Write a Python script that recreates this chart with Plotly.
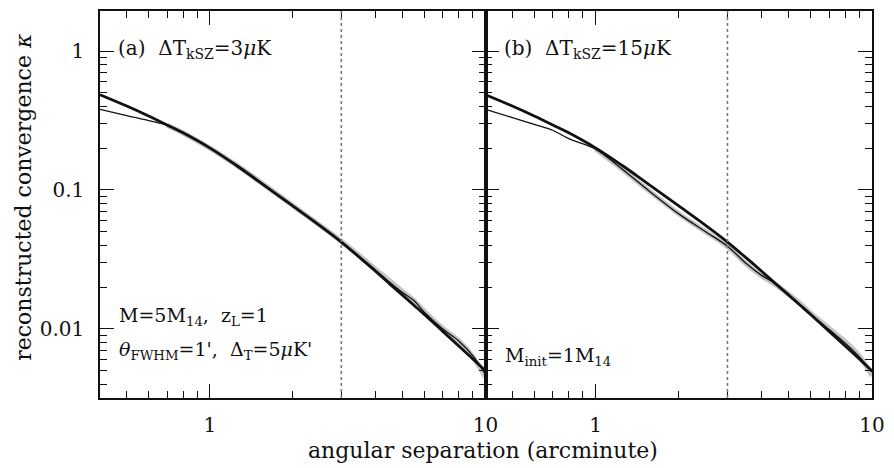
import plotly.graph_objects as go

# angular separation (arcminute)
sep = [0.4, 0.5, 0.6, 0.7, 0.8, 1.0, 1.25, 1.5, 2.0, 2.5, 3.0, 3.5, 4.0, 4.5, 5.0, 5.5, 6.0, 7.0, 8.0, 9.0, 10.0]

# input (true) convergence profile, same in both panels
kappa_true = [0.485, 0.402, 0.341, 0.294, 0.258, 0.201, 0.150, 0.116, 0.0767, 0.0556, 0.0422,
              0.0326, 0.0259, 0.0210, 0.0175, 0.0148, 0.0127, 0.0096, 0.00754, 0.00607, 0.00498]

# panel (a): dT_kSZ = 3 muK
kappa_rec_a = [0.380, 0.343, 0.316, 0.293, 0.258, 0.201, 0.151, 0.117, 0.0770, 0.0556, 0.0425,
               0.0330, 0.0265, 0.0216, 0.0183, 0.0160, 0.0132, 0.0100, 0.0082, 0.0064, 0.0047]
kappa_band_a = [None, None, None, 0.292, 0.257, 0.200, 0.151, 0.117, 0.0772, 0.0560, 0.0428,
                0.0335, 0.0268, 0.0222, 0.0186, 0.0160, 0.0134, 0.0101, 0.0082, 0.0063, 0.0045]

# panel (b): dT_kSZ = 15 muK
kappa_rec_b = [0.380, 0.332, 0.297, 0.269, 0.234, 0.197, 0.141, 0.105, 0.0673, 0.0501, 0.0394,
               0.0297, 0.0242, 0.0210, 0.0176, 0.0149, 0.0128, 0.0099, 0.0079, 0.0063, 0.0049]
kappa_band_b = [None, None, None, None, None, 0.197, 0.141, 0.105, 0.0675, 0.0502, 0.0392,
                0.0295, 0.0240, 0.0207, 0.0177, 0.0152, 0.0130, 0.0101, 0.0081, 0.0064, 0.0046]

x_major = [1, 10]
x_major_text = ["1", "10"]
x_minor = [0.5, 0.6, 0.7, 0.8, 0.9, 2, 3, 4, 5, 6, 7, 8, 9]
y_major = [0.01, 0.1, 1]
y_major_text = ["0.01", "0.1", "1"]
y_minor = [0.004, 0.005, 0.006, 0.007, 0.008, 0.009,
           0.02, 0.03, 0.04, 0.05, 0.06, 0.07, 0.08, 0.09,
           0.2, 0.3, 0.4, 0.5, 0.6, 0.7, 0.8, 0.9]
theta_beam = 3.0

FONT = "DejaVu Serif"
BLACK = "#111111"
GRAY = "#c4c4c4"

W, H = 894, 468
PL, PR, PT, PB = 100, 879, 9, 398   # plot area in window pixels

fig = go.Figure()
panels = [("x", "y", kappa_rec_a, kappa_band_a), ("x2", "y2", kappa_rec_b, kappa_band_b)]
for xa, ya, rec, band in panels:
    fig.add_trace(go.Scatter(x=sep, y=band, mode="lines", xaxis=xa, yaxis=ya,
                             line=dict(color=GRAY, width=5, shape="spline"),
                             connectgaps=False, showlegend=False, hoverinfo="skip"))
    fig.add_trace(go.Scatter(x=sep, y=rec, mode="lines", xaxis=xa, yaxis=ya,
                             line=dict(color=BLACK, width=1.3, shape="spline"), showlegend=False))
    fig.add_trace(go.Scatter(x=sep, y=kappa_true, mode="lines", xaxis=xa, yaxis=ya,
                             line=dict(color=BLACK, width=2.8, shape="spline"), showlegend=False))
    fig.add_shape(type="line", xref=xa, yref=ya + " domain", x0=theta_beam, x1=theta_beam,
                  y0=0, y1=1, line=dict(color="#777777", width=1.6, dash="dot"))

split = (489 - PL) / (PR - PL)

def xaxis_cfg(domain, anchor):
    return dict(domain=domain, anchor=anchor, type="log", range=[-0.398, 1.0],
                tickvals=x_major, ticktext=x_major_text, ticks="inside", ticklen=14,
                tickwidth=1.2, tickcolor=BLACK, showline=True, linecolor=BLACK, linewidth=1.5,
                mirror="allticks", showgrid=False, zeroline=False, ticklabelstandoff=8,
                tickfont=dict(family=FONT, size=20, color=BLACK),
                minor=dict(tickvals=x_minor, ticks="inside", ticklen=7, tickwidth=1.1,
                           tickcolor=BLACK, showgrid=False))

def yaxis_cfg(anchor, labels):
    return dict(domain=[0, 1], anchor=anchor, type="log", range=[-2.497, 0.288],
                tickvals=y_major, ticktext=y_major_text, ticks="inside", ticklen=14,
                tickwidth=1.2, tickcolor=BLACK, showline=True, linecolor=BLACK, linewidth=1.5,
                mirror="allticks", showgrid=False, zeroline=False, showticklabels=labels,
                ticklabelstandoff=10, tickfont=dict(family=FONT, size=20, color=BLACK),
                minor=dict(tickvals=y_minor, ticks="inside", ticklen=7, tickwidth=1.1,
                           tickcolor=BLACK, showgrid=False))

def px_x(p):
    return (p - PL) / (PR - PL)

def px_y(p):
    return (PB - p) / (PB - PT)

anns = [
    dict(text="(a)  ΔT<sub>kSZ</sub>=3<i>μ</i>K", x=px_x(116), y=px_y(47), size=20),
    dict(text="(b)  ΔT<sub>kSZ</sub>=15<i>μ</i>K", x=px_x(506), y=px_y(47), size=20),
    dict(text="M=5M<sub>14</sub>,  z<sub>L</sub>=1", x=px_x(117), y=px_y(316), size=19),
    dict(text="<i>θ</i><sub>FWHM</sub>=1',  Δ<sub>T</sub>=5<i>μ</i>K'", x=px_x(117), y=px_y(350), size=19),
    dict(text="M<sub>init</sub>=1M<sub>14</sub>", x=px_x(507), y=px_y(356), size=19),
]
annotations = []
for a in anns:
    annotations.append(dict(text=a["text"], x=a["x"], y=a["y"], xref="paper", yref="paper",
                            xanchor="left", yanchor="middle", showarrow=False,
                            font=dict(family=FONT, size=a["size"], color=BLACK)))
annotations.append(dict(text="angular separation (arcminute)", x=px_x(486), y=px_y(451),
                        xref="paper", yref="paper", xanchor="center", yanchor="middle",
                        showarrow=False, font=dict(family=FONT, size=22, color=BLACK)))
annotations.append(dict(text="reconstructed convergence <i>κ</i>", x=px_x(22), y=px_y(196),
                        xref="paper", yref="paper", xanchor="center", yanchor="middle",
                        textangle=-90, showarrow=False,
                        font=dict(family=FONT, size=22, color=BLACK)))

fig.update_layout(
    width=W, height=H,
    margin=dict(l=PL, r=W - PR, t=PT, b=H - PB, pad=0),
    paper_bgcolor="white", plot_bgcolor="white",
    xaxis=xaxis_cfg([0, split], "y"),
    xaxis2=xaxis_cfg([split, 1], "y2"),
    yaxis=yaxis_cfg("x", True),
    yaxis2=yaxis_cfg("x2", False),
    annotations=annotations,
    font=dict(family=FONT, color=BLACK),
)

fig.write_html("out.html", config={"displayModeBar": False},
               post_script="document.body.style.margin='0';document.body.style.overflow='hidden';")
